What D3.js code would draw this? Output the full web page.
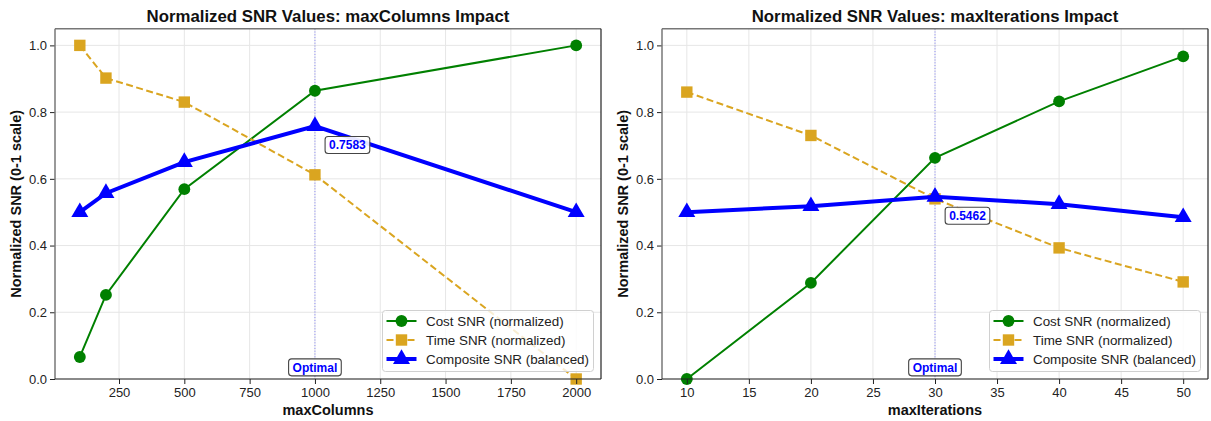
<!DOCTYPE html>
<html>
<head>
<meta charset="utf-8">
<script src="https://cdn.jsdelivr.net/npm/d3@7"></script>
<style>
  html, body { margin: 0; padding: 0; background: #fff; }
  svg { display: block; }
  svg text { font-family: "Liberation Sans", Arial, sans-serif; }
</style>
</head>
<body>
<svg id="chart" width="1211" height="421"></svg>
<script>
// Data
const colsX = [100, 200, 500, 1000, 2000];
const colsCost = [0.066, 0.252, 0.569, 0.864, 1.0];
const colsTime = [1.0, 0.902, 0.830, 0.612, 0.0];
const colsComposite = [0.5, 0.557, 0.650, 0.7583, 0.5];
const colsOptimal = 1000;
const colsTicks = [250, 500, 750, 1000, 1250, 1500, 1750, 2000];

const itersX = [10, 20, 30, 40, 50];
const itersCost = [0.0, 0.288, 0.663, 0.832, 0.967];
const itersTime = [0.860, 0.730, 0.540, 0.393, 0.291];
const itersComposite = [0.5, 0.518, 0.5462, 0.524, 0.485];
const itersOptimal = 30;
const itersTicks = [10, 15, 20, 25, 30, 35, 40, 45, 50];

const yTicks = [0, 0.2, 0.4, 0.6, 0.8, 1.0];
const seriesNames = ["Cost SNR (normalized)", "Time SNR (normalized)", "Composite SNR (balanced)"];

// Layout
let margin = {top: 28.7, bottom: 42},
    height = 421 - margin.bottom - margin.top;

const svg = d3.select("#chart");

const styles = [
    {color: "#008000", width: 2, dash: null, symbol: d3.symbolCircle, size: 110},
    {color: "#DAA520", width: 2, dash: "7,3.5", symbol: d3.symbolSquare, size: 130},
    {color: "#0000FF", width: 4, dash: null, symbol: d3.symbolTriangle, size: 125}
];

function drawPanel(p) {
    let x = d3.scaleLinear().range([p.left, p.right]);
    let y = d3.scaleLinear().range([margin.top + height, margin.top]);

    // 5% padding like matplotlib
    let ext = d3.extent(p.xs);
    let pad = (ext[1] - ext[0]) * 0.05;
    x.domain([ext[0] - pad, ext[1] + pad]);
    y.domain([0, 1.05]);

    let g = svg.append("g");

    // grid
    g.append("g").selectAll("line").data(p.ticks).join("line")
        .attr("x1", d => x(d)).attr("x2", d => x(d))
        .attr("y1", margin.top).attr("y2", margin.top + height)
        .attr("stroke", "#e6e6e6").attr("stroke-width", 1);
    g.append("g").selectAll("line").data(yTicks).join("line")
        .attr("x1", p.left).attr("x2", p.right)
        .attr("y1", d => y(d)).attr("y2", d => y(d))
        .attr("stroke", "#e6e6e6").attr("stroke-width", 1);

    // optimal marker line
    g.append("line")
        .attr("x1", x(p.optimal)).attr("x2", x(p.optimal))
        .attr("y1", margin.top).attr("y2", margin.top + height)
        .attr("stroke", "#0000FF").attr("stroke-opacity", 0.45)
        .attr("stroke-width", 1).attr("stroke-dasharray", "1,1.8");

    // series
    p.series.forEach(function(vals, i) {
        let s = styles[i];
        let pts = p.xs.map((v, j) => ({x: v, y: vals[j]}));
        let line = d3.line().x(d => x(d.x)).y(d => y(d.y));
        g.append("path")
            .datum(pts)
            .attr("d", line)
            .attr("fill", "none")
            .attr("stroke", s.color)
            .attr("stroke-width", s.width)
            .attr("stroke-dasharray", s.dash);
        g.append("g").selectAll("path").data(pts).join("path")
            .attr("d", d3.symbol().type(s.symbol).size(s.size))
            .attr("transform", d => "translate(" + x(d.x) + "," + y(d.y) + ")")
            .attr("fill", s.color);
    });

    // value box near composite optimum
    let oi = p.xs.indexOf(p.optimal);
    let cv = p.series[2][oi];
    addBox(g, x(p.optimal) + 10 + 22.5, y(cv) + 19, d3.format(".4f")(cv));
    addBox(g, x(p.optimal), y(0.02) - 5, "Optimal");

    // x axis
    let xAxis = g.append("g")
        .attr("transform", "translate(0," + (margin.top + height) + ")")
        .call(d3.axisBottom(x).tickValues(p.ticks).tickFormat(d3.format("d"))
            .tickSize(5).tickSizeOuter(0).tickPadding(4));
    xAxis.attr("font-family", null);
    xAxis.select(".domain").remove();
    xAxis.selectAll("text").attr("font-size", 13).attr("fill", "#222");
    xAxis.selectAll("line").attr("stroke", "#222");

    let yAxis = g.append("g")
        .attr("transform", "translate(" + p.left + ",0)")
        .call(d3.axisLeft(y).tickValues(yTicks).tickFormat(d3.format(".1f"))
            .tickSize(5).tickSizeOuter(0).tickPadding(3));
    yAxis.attr("font-family", null);
    yAxis.select(".domain").remove();
    yAxis.selectAll("text").attr("font-size", 13).attr("fill", "#222");
    yAxis.selectAll("line").attr("stroke", "#222");

    // legend
    let lw = 211, lh = 61;
    let lx = p.right - 7.5 - lw, ly = margin.top + height - 7.5 - lh;
    let leg = g.append("g").attr("transform", "translate(" + lx + "," + ly + ")");
    leg.append("rect")
        .attr("width", lw).attr("height", lh).attr("rx", 3)
        .attr("fill", "#fff").attr("fill-opacity", 0.8)
        .attr("stroke", "#d0d0d0").attr("stroke-width", 1);
    seriesNames.forEach(function(name, i) {
        let s = styles[i];
        let row = leg.append("g").attr("transform", "translate(0," + (10.5 + i * 19) + ")");
        row.append("line")
            .attr("x1", 4).attr("x2", 34)
            .attr("stroke", s.color).attr("stroke-width", s.width)
            .attr("stroke-dasharray", s.dash);
        row.append("path")
            .attr("d", d3.symbol().type(s.symbol).size(s.size))
            .attr("transform", "translate(19,0)")
            .attr("fill", s.color);
        row.append("text")
            .attr("x", 43.5).attr("y", 0).attr("dy", "0.35em")
            .attr("font-size", 13.4).attr("fill", "#222")
            .text(name);
    });

    // spines
    g.append("line").attr("x1", p.left).attr("x2", p.left)
        .attr("y1", margin.top).attr("y2", margin.top + height)
        .attr("stroke", "#777").attr("stroke-width", 1.5);
    g.append("line").attr("x1", p.left).attr("x2", p.right)
        .attr("y1", margin.top).attr("y2", margin.top)
        .attr("stroke", "#777").attr("stroke-width", 1.5);
    g.append("line").attr("x1", p.right).attr("x2", p.right)
        .attr("y1", margin.top).attr("y2", margin.top + height)
        .attr("stroke", "#222").attr("stroke-width", 1.2);
    g.append("line").attr("x1", p.left).attr("x2", p.right)
        .attr("y1", margin.top + height).attr("y2", margin.top + height)
        .attr("stroke", "#222").attr("stroke-width", 1.2);

    // title and labels
    let cx = (p.left + p.right) / 2;
    g.append("text")
        .attr("x", cx).attr("y", 22)
        .attr("text-anchor", "middle")
        .attr("font-size", 16.8).attr("font-weight", "bold").attr("fill", "#111")
        .text(p.title);
    g.append("text")
        .attr("x", cx).attr("y", 415)
        .attr("text-anchor", "middle")
        .attr("font-size", 14.5).attr("font-weight", "bold").attr("fill", "#111")
        .text(p.xLabel);
    g.append("text")
        .attr("transform", "translate(" + (p.left - 34) + "," + (margin.top + height / 2) + ") rotate(-90)")
        .attr("text-anchor", "middle")
        .attr("font-size", 14.5).attr("font-weight", "bold").attr("fill", "#111")
        .text("Normalized SNR (0-1 scale)");
}

function addBox(g, cx, cy, label) {
    let b = g.append("g").attr("transform", "translate(" + cx + "," + cy + ")");
    let t = b.append("text")
        .attr("text-anchor", "middle").attr("dy", "0.35em")
        .attr("font-size", 12).attr("font-weight", "bold").attr("fill", "#0000FF")
        .text(label);
    let w = t.node().getComputedTextLength() + 8;
    b.insert("rect", "text")
        .attr("x", -w / 2).attr("y", -8.5)
        .attr("width", w).attr("height", 17).attr("rx", 3)
        .attr("fill", "#fff").attr("fill-opacity", 0.9)
        .attr("stroke", "#444").attr("stroke-width", 1.1);
}

drawPanel({
    left: 55, right: 601,
    xs: colsX, series: [colsCost, colsTime, colsComposite],
    optimal: colsOptimal, ticks: colsTicks,
    title: "Normalized SNR Values: maxColumns Impact", xLabel: "maxColumns"
});
drawPanel({
    left: 662, right: 1208,
    xs: itersX, series: [itersCost, itersTime, itersComposite],
    optimal: itersOptimal, ticks: itersTicks,
    title: "Normalized SNR Values: maxIterations Impact", xLabel: "maxIterations"
});
</script>
</body>
</html>
